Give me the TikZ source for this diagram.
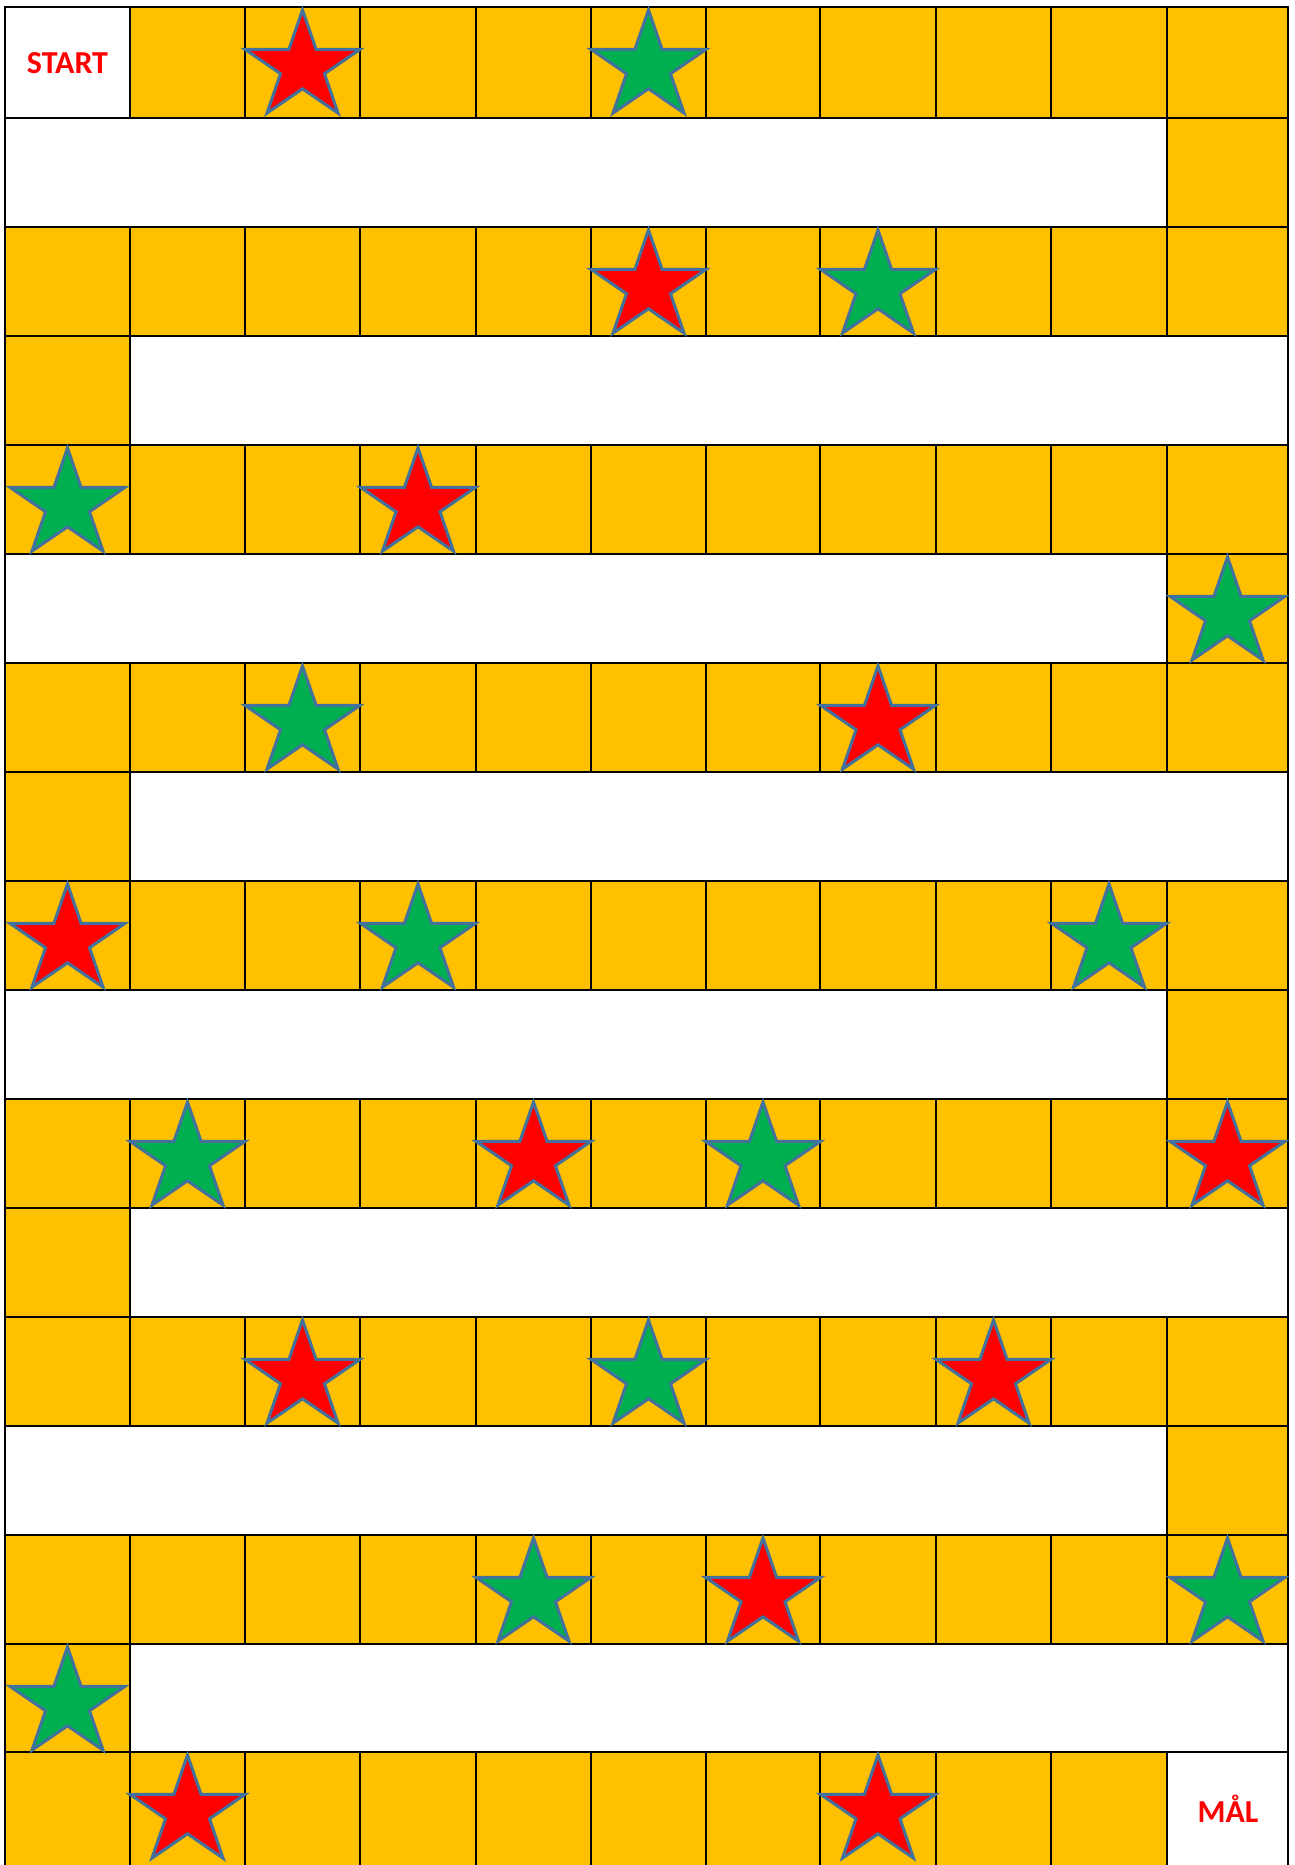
\documentclass[tikz,border=0pt]{standalone}
\usepackage{fontspec}
\setmainfont{Carlito}
\definecolor{board}{HTML}{FFC000}
\definecolor{sred}{HTML}{FF0000}
\definecolor{sgreen}{HTML}{00B050}
\definecolor{sedge}{HTML}{41719C}
\def\X{{5,130,245,360,476,591,706,820,936,1051,1167,1288}}
\def\Y{{7,118,227,336,445,554,663,772,881,990,1099,1208,1317,1426,1535,1644,1752,1880}}
\newcommand\boardcell[4]{%
  \pgfmathsetmacro\bxa{\X[#2]}\pgfmathsetmacro\bxb{\X[#3]}%
  \pgfmathtruncatemacro\brn{#1+1}%
  \pgfmathsetmacro\bya{\Y[#1]}\pgfmathsetmacro\byb{\Y[\brn]}%
  \filldraw[cellbox,fill=#4] (\bxa,\bya) rectangle (\bxb,\byb);}
\newcommand\boardstar[3]{%
  \pgfmathtruncatemacro\bcn{#2+1}%
  \pgfmathsetmacro\sxa{\X[#2]}\pgfmathsetmacro\sxb{\X[\bcn]}%
  \pgfmathsetmacro\sx{(\sxa+\sxb)/2}%
  \pgfmathsetmacro\sy{\Y[#1]+60}%
  \draw[starline,fill=#3,shift={(\sx,\sy)},xscale=1.06,yscale=-1]
    (90:57) -- (126:21.8) -- (162:57) -- (198:21.8) -- (234:57) -- (270:21.8)
    -- (306:57) -- (342:21.8) -- (18:57) -- (54:21.8) -- cycle;}
\begin{document}
\begin{tikzpicture}[x=1pt,y=-1pt,
  cellbox/.style={draw=black,line width=2.7pt},
  starline/.style={draw=sedge,line width=3pt,miter limit=10},
  lbl/.style={text=sred,font=\fontsize{32}{32}\selectfont\bfseries,anchor=base,inner sep=0pt}]
\useasboundingbox (0,0) rectangle (1295,1865);
\clip (0,0) rectangle (1295,1865);
\fill[white] (0,0) rectangle (1295,1865);
% row 0
\boardcell{0}{0}{1}{white}
\foreach \c in {1,...,10}{\pgfmathtruncatemacro\cn{\c+1}\boardcell{0}{\c}{\cn}{board}}
% full rows
\foreach \r in {2,4,...,14}{%
  \foreach \c in {0,...,10}{\pgfmathtruncatemacro\cn{\c+1}\boardcell{\r}{\c}{\cn}{board}}}
% row 16
\foreach \c in {0,...,9}{\pgfmathtruncatemacro\cn{\c+1}\boardcell{16}{\c}{\cn}{board}}
\boardcell{16}{10}{11}{white}
% band rows, turn at right
\foreach \r in {1,5,9,13}{\boardcell{\r}{0}{10}{white}\boardcell{\r}{10}{11}{board}}
% band rows, turn at left
\foreach \r in {3,7,11,15}{\boardcell{\r}{0}{1}{board}\boardcell{\r}{1}{11}{white}}
% labels
\node[lbl] (start) at (67.5,74) {START};
\node[lbl] (goal) at (1228,1822) {MÅL};
% stars
\boardstar{0}{2}{sred}
\boardstar{0}{5}{sgreen}
\boardstar{2}{5}{sred}
\boardstar{2}{7}{sgreen}
\boardstar{4}{0}{sgreen}
\boardstar{4}{3}{sred}
\boardstar{5}{10}{sgreen}
\boardstar{6}{2}{sgreen}
\boardstar{6}{7}{sred}
\boardstar{8}{0}{sred}
\boardstar{8}{3}{sgreen}
\boardstar{8}{9}{sgreen}
\boardstar{10}{1}{sgreen}
\boardstar{10}{4}{sred}
\boardstar{10}{6}{sgreen}
\boardstar{10}{10}{sred}
\boardstar{12}{2}{sred}
\boardstar{12}{5}{sgreen}
\boardstar{12}{8}{sred}
\boardstar{14}{4}{sgreen}
\boardstar{14}{6}{sred}
\boardstar{14}{10}{sgreen}
\boardstar{15}{0}{sgreen}
\boardstar{16}{1}{sred}
\boardstar{16}{7}{sred}
\end{tikzpicture}
\end{document}
